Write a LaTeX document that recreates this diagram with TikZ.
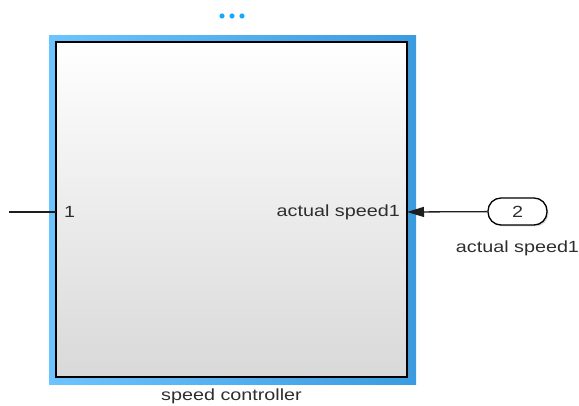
\documentclass[tikz,border=0pt]{standalone}
\usepackage{fontspec}
\setmainfont{Liberation Sans}
\usetikzlibrary{arrows.meta,positioning,shadows}
\definecolor{hilite}{HTML}{6CC4FF}
\definecolor{hilitedark}{HTML}{3A9BE0}
\definecolor{dotblue}{HTML}{1AA6FF}
\definecolor{wire}{HTML}{1E1E1E}
\definecolor{ink}{HTML}{2E2E2E}

\begin{document}
\begin{tikzpicture}[x=1pt,y=-1pt,
    lbl/.style={font=\fontsize{19}{22}\selectfont,text=ink,inner sep=0pt,
      xscale=1.04,yscale=0.85,transform shape},
    subsys/.style={draw=black,line width=1.8pt,top color=white,bottom color=black!15,
      minimum width=351pt,minimum height=335pt,inner sep=0pt,
      drop shadow={shadow xshift=1.5pt,shadow yshift=-1.5pt,opacity=0.35}},
    portpill/.style={draw=black,line width=1.3pt,rounded corners=13pt,fill=white,
      minimum width=59pt,minimum height=27pt,inner sep=0pt,
      drop shadow={shadow xshift=1.5pt,shadow yshift=-1.5pt,opacity=0.3}},
    wireline/.style={wire,line width=1.3pt}]
  \useasboundingbox (0,0) rectangle (579,406);
  % selection highlight and the three dots over it
  \shade[left color=hilite,right color=hilitedark] (49,36) rectangle (416,385);
  \foreach \x in {222,232,242}
    \fill[dotblue] (\x,16) circle (2.6);
  % subsystem block
  \node[subsys] (ctrl) at (231.5,209.5) {};
  \node[lbl,below=11pt of ctrl] (ctrlname) {speed controller};
  % input side
  \coordinate (inport) at (56,212);
  \coordinate (src) at (9,212);
  \node[lbl,right=8pt of inport] (inname) {1};
  \draw[wireline] (src) -- (inport);
  % output side
  \coordinate (outport) at (407,212);
  \node[lbl,left=7pt of outport] (outname) {actual speed1};
  \node[portpill] (outp) at (517.5,211.5) {};
  \node[lbl] (outnum) at (outp) {2};
  \node[lbl,below=15pt of outp] (outpname) {actual speed1};
  \draw[wireline,-{Triangle[length=17pt,width=10pt]}] (outp) -- (outport);
\end{tikzpicture}
\end{document}
